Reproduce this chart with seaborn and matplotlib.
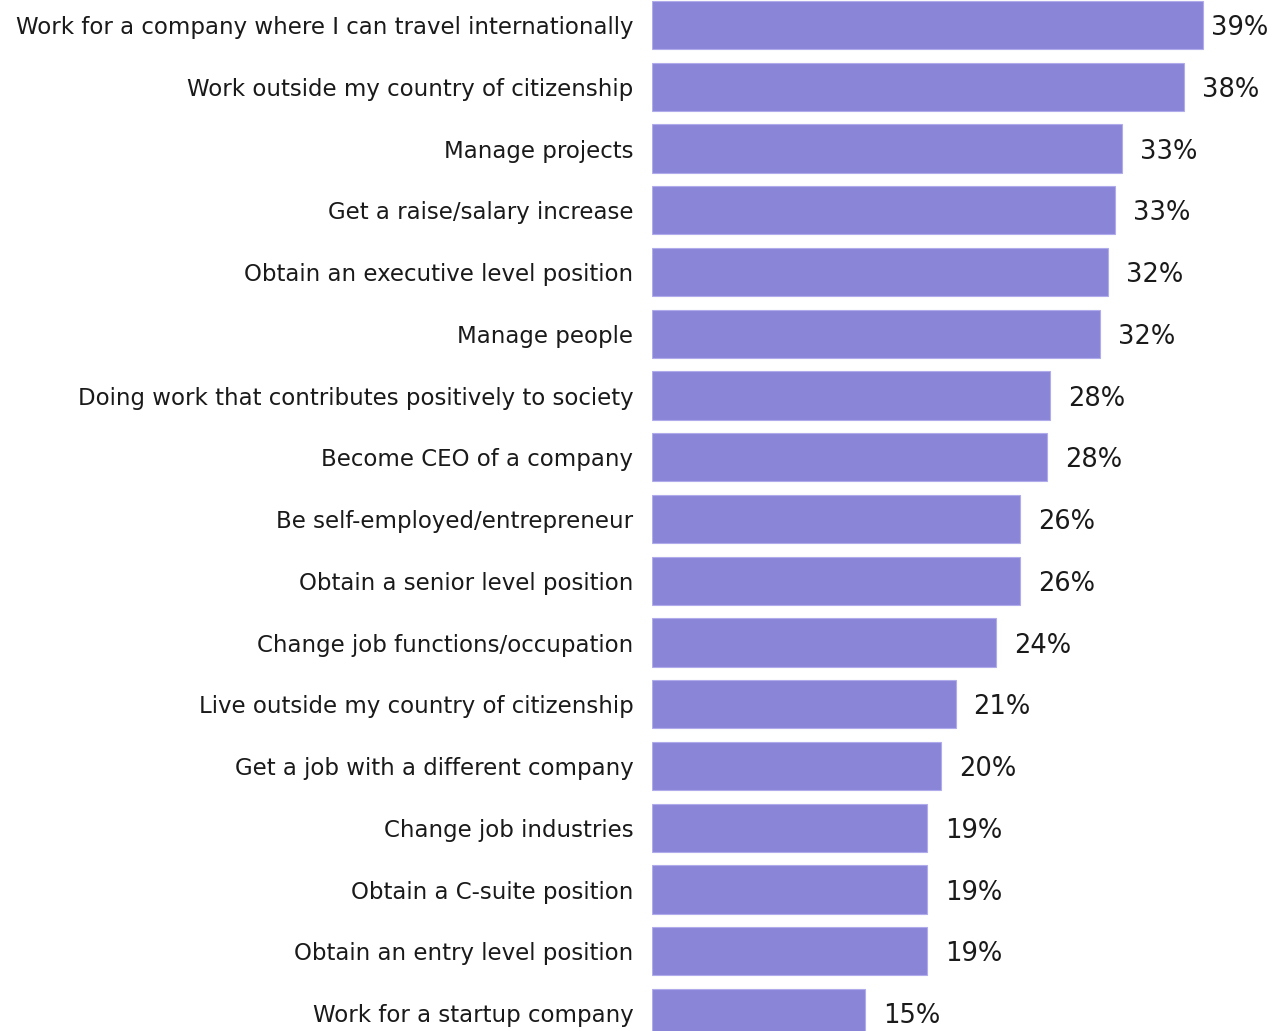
import pandas as pd
import matplotlib.pyplot as plt
import seaborn as sns

# survey answers, top to bottom
goals = [
    "Work for a company where I can travel internationally",
    "Work outside my country of citizenship",
    "Manage projects",
    "Get a raise/salary increase",
    "Obtain an executive level position",
    "Manage people",
    "Doing work that contributes positively to society",
    "Become CEO of a company",
    "Be self-employed/entrepreneur",
    "Obtain a senior level position",
    "Change job functions/occupation",
    "Live outside my country of citizenship",
    "Get a job with a different company",
    "Change job industries",
    "Obtain a C-suite position",
    "Obtain an entry level position",
    "Work for a startup company",
]
shares = [39.0, 37.7, 33.3, 32.8, 32.3, 31.7, 28.2, 28.0, 26.1, 26.1,
          24.4, 21.5, 20.5, 19.5, 19.5, 19.5, 15.1]
share_labels = ["39%", "38%", "33%", "33%", "32%", "32%", "28%", "28%", "26%",
                "26%", "24%", "21%", "20%", "19%", "19%", "19%", "15%"]

df = pd.DataFrame({"goal": goals, "share": shares})

sns.set_style("white")
plt.rcParams["font.family"] = ["DejaVu Sans"]

fig = plt.figure(figsize=(12.76, 10.31), dpi=100)
ax = fig.add_axes([0.511, 0.0, 0.489, 1.0])

sns.barplot(data=df, x="share", y="goal", orient="h", color="#8b85d8",
            saturation=1, width=0.78, edgecolor="#b0acec", linewidth=0.8, ax=ax)

texts = ax.bar_label(ax.containers[0], labels=share_labels, padding=13,
                     fontsize=18.5, color="#1a1a1a")
# the top label sits closer to its bar so it fits inside the figure
texts[0].xyann = (6, 0)
for t in texts:
    t.set_va("center_baseline")

ax.set_xlim(0, 44.2)
ax.set_ylim(16.29, -0.405)
ax.set_xlabel("")
ax.set_ylabel("")
ax.set_xticks([])
ax.tick_params(axis="y", length=0, pad=13.5, labelsize=16.5, labelcolor="#1a1a1a")
sns.despine(ax=ax, left=True, bottom=True)

fig.savefig("out.png", dpi=100)
